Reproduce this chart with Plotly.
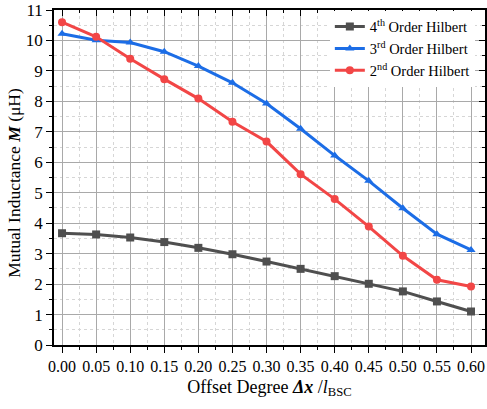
import plotly.graph_objects as go

offset = [0.00, 0.05, 0.10, 0.15, 0.20, 0.25, 0.30, 0.35, 0.40, 0.45, 0.50, 0.55, 0.60]
hilbert4 = [3.67, 3.63, 3.53, 3.38, 3.19, 2.98, 2.74, 2.50, 2.26, 2.01, 1.76, 1.43, 1.10]
hilbert3 = [10.22, 10.01, 9.93, 9.63, 9.16, 8.61, 7.93, 7.10, 6.22, 5.39, 4.49, 3.64, 3.12]
hilbert2 = [10.60, 10.12, 9.40, 8.73, 8.09, 7.33, 6.68, 5.61, 4.79, 3.89, 2.93, 2.14, 1.92]
tick_vals = offset
tick_text = [f"{v:.2f}" for v in offset]
y_title = "Mutual Inductance <b><i>M</i></b> (μH)"
x_title = "Offset Degree <i><b>Δx</b></i> /<i>l</i><sub>BSC</sub>"

FONT = "Liberation Serif"
XR = [-0.0118, 0.6205]
YR = [0, 11]

fig = go.Figure()
series = [
    ("4<sup>th</sup> Order Hilbert", hilbert4, "#4f4f4f", "square"),
    ("3<sup>rd</sup> Order Hilbert", hilbert3, "#1c6de6", "triangle-up"),
    ("2<sup>nd</sup> Order Hilbert", hilbert2, "#f24646", "circle"),
]
for name, ys, col, sym in series:
    fig.add_trace(go.Scatter(
        x=offset, y=ys, name=name, mode="lines+markers",
        line=dict(color=col, width=3),
        marker=dict(symbol=sym, size=8, color=col),
    ))

fig.add_trace(go.Scatter(x=[offset[0]], y=[hilbert4[0]], xaxis="x2", yaxis="y2",
                         mode="markers", marker=dict(opacity=0), showlegend=False,
                         hoverinfo="skip"))

fig.add_annotation(text=y_title, textangle=-90, xref="paper", yref="paper",
                   x=-0.0928, y=0.484, xanchor="center", yanchor="middle",
                   showarrow=False, font=dict(family=FONT, size=17.5, color="black"))

fig.update_layout(
    width=487, height=409,
    margin=dict(l=54, r=2, t=10, b=64),
    paper_bgcolor="white", plot_bgcolor="white",
    font=dict(family=FONT, size=15, color="black"),
    showlegend=True,
    legend=dict(x=0.64, y=0.998, xanchor="left", yanchor="top",
                bgcolor="white", borderwidth=0, font=dict(family=FONT, size=14.5),
                tracegroupgap=0, itemwidth=30),
    xaxis=dict(
        range=XR, tickmode="array", tickvals=tick_vals, ticktext=tick_text,
        showline=True, linecolor="black", linewidth=1.5,
        ticks="outside", ticklen=6, tickwidth=1.2, tickcolor="black",
        showgrid=True, gridcolor="#a9a9a9", gridwidth=1,
        minor=dict(dtick=0.025, tick0=0, ticks="outside", ticklen=3, tickcolor="black",
                   showgrid=True, gridcolor="#d6d6d6", griddash="3px,3px", gridwidth=1),
        zeroline=False,
        title=dict(text=x_title, font=dict(family=FONT, size=18), standoff=6),
        tickfont=dict(family=FONT, size=16),
    ),
    yaxis=dict(
        range=YR, dtick=1, tick0=0,
        showline=True, linecolor="black", linewidth=1.5,
        ticks="outside", ticklen=6, tickwidth=1.2, tickcolor="black",
        showgrid=True, gridcolor="#a9a9a9", gridwidth=1,
        minor=dict(dtick=0.5, ticks="outside", ticklen=3, tickcolor="black",
                   showgrid=True, gridcolor="#d6d6d6", griddash="3px,3px", gridwidth=1),
        zeroline=False,
        tickfont=dict(family=FONT, size=17),
    ),
    xaxis2=dict(
        overlaying="x", side="top", range=XR,
        tickmode="array", tickvals=tick_vals, showticklabels=False,
        showline=True, linecolor="black", linewidth=1.5,
        ticks="inside", ticklen=6, tickwidth=1.2, tickcolor="black",
        minor=dict(dtick=0.025, tick0=0, ticks="inside", ticklen=3, tickcolor="black"),
        showgrid=False, zeroline=False,
    ),
    yaxis2=dict(
        overlaying="y", side="right", range=YR, dtick=1, showticklabels=False,
        showline=True, linecolor="black", linewidth=1.5,
        ticks="inside", ticklen=6, tickwidth=1.2, tickcolor="black",
        minor=dict(dtick=0.5, ticks="inside", ticklen=3, tickcolor="black"),
        showgrid=False, zeroline=False,
    ),
)

fig.write_html("out.html")
